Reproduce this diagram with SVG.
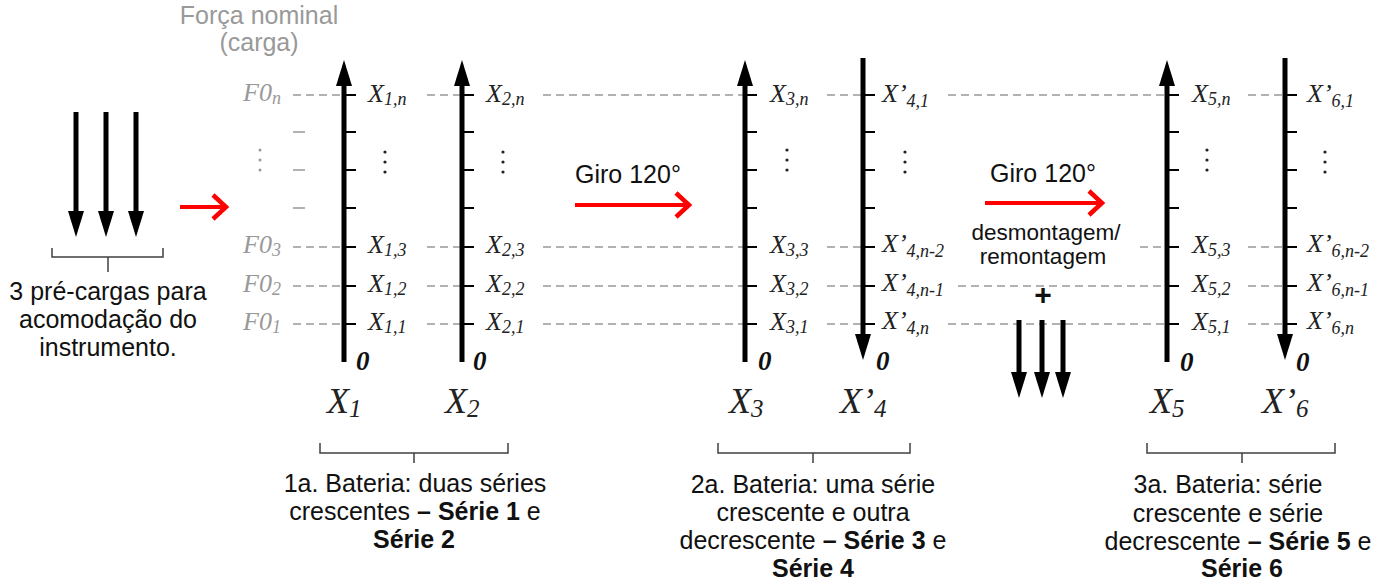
<svg xmlns="http://www.w3.org/2000/svg" width="1396" height="586" viewBox="0 0 1396 586">
<style>
.lab{font-family:"Liberation Serif","Times New Roman",serif;font-style:italic;font-size:26px;fill:#222}
.sub{font-size:18px}
.f0{fill:#999}
.big{font-size:36px}
.bsub{font-size:25px}
.zero{font-family:"Liberation Serif",serif;font-style:italic;font-weight:bold;font-size:27px;fill:#111}
.sans{font-family:"Liberation Sans",Arial,sans-serif;font-size:25px;fill:#111}
.mid{text-anchor:middle}
.gray{fill:#999}
.axis{stroke:#000;stroke-width:5;fill:none}
.tick{stroke:#000;stroke-width:2}
.dash{stroke:#999;stroke-width:1.6;stroke-dasharray:8 5;fill:none}
.gdash{stroke:#999;stroke-width:1.6}
.red{stroke:#f00;stroke-width:4;fill:none}
.brk{stroke:#404040;stroke-width:1.5;fill:none}
.dot{fill:#222}
.gdot{fill:#999}
</style>
<defs>
<marker id="ah" markerUnits="userSpaceOnUse" markerWidth="26" markerHeight="16" viewBox="0 0 26 16" refX="2" refY="8" orient="auto"><path d="M0,0 L26,8 L0,16 z" fill="#000"/></marker>
<marker id="rh" markerUnits="userSpaceOnUse" markerWidth="24" markerHeight="30" viewBox="-4 -15 24 30" refX="13" refY="0" orient="auto"><path d="M0,-12 L13,0 L0,12" fill="none" stroke="#f00" stroke-width="4.5"/></marker>
</defs>

<rect width="1396" height="586" fill="#fff"/>

<g id="title">
<text class="sans gray mid" x="259" y="24">Força nominal</text>
<text class="sans gray mid" x="259" y="51">(carga)</text>
</g>

<g id="connectors">
<g class="dash">
<path d="M293,95H344M293,247H344M293,286H344M293,324H344"/>
<path d="M427,95H462M427,247H462M427,286H462M427,324H462"/>
<path d="M543,95H745M543,247H745M543,286H745M543,324H745"/>
<path d="M827,95H863M827,247H863M827,286H863M827,324H863"/>
<path d="M948,95H1167M1140,247H1167M958,286H1167M948,324H1167"/>
<path d="M1248,95H1285M1248,247H1285M1248,286H1285M1248,324H1285"/>
</g>
<line class="red" x1="180" y1="207" x2="226" y2="207" marker-end="url(#rh)"/>
<line class="red" x1="575" y1="205" x2="689" y2="205" marker-end="url(#rh)"/>
<line class="red" x1="985" y1="203" x2="1102" y2="203" marker-end="url(#rh)"/>
</g>

<g id="preload">
<line class="axis" x1="76" y1="112" x2="76" y2="213" marker-end="url(#ah)"/>
<line class="axis" x1="106" y1="112" x2="106" y2="213" marker-end="url(#ah)"/>
<line class="axis" x1="136" y1="112" x2="136" y2="213" marker-end="url(#ah)"/>
<path class="brk" d="M52,248V257H163V248M108,257V272"/>
<text class="sans mid" x="108" y="300">3 pré-cargas para</text>
<text class="sans mid" x="108" y="328">acomodação do</text>
<text class="sans mid" x="108" y="356">instrumento.</text>
</g>

<g id="f0scale">
<path class="gdash" d="M293,132H305M293,170H305M293,208H305"/>
<circle class="gdot" cx="260" cy="150" r="1.5"/><circle class="gdot" cx="260" cy="160" r="1.5"/><circle class="gdot" cx="260" cy="170" r="1.5"/>
<text class="lab f0" x="243" y="101">F0<tspan class="sub" dy="3">n</tspan></text>
<text class="lab f0" x="243" y="253">F0<tspan class="sub" dy="3">3</tspan></text>
<text class="lab f0" x="243" y="292">F0<tspan class="sub" dy="3">2</tspan></text>
<text class="lab f0" x="243" y="330">F0<tspan class="sub" dy="3">1</tspan></text>
</g>

<g id="axis1">
<line class="axis" x1="344" y1="362" x2="344" y2="84" marker-end="url(#ah)"/>
<path class="tick" d="M344,95h12M344,132h12M344,170h12M344,208h12M344,247h12M344,286h12M344,324h12"/>
<circle class="dot" cx="385" cy="152" r="1.6"/><circle class="dot" cx="385" cy="162" r="1.6"/><circle class="dot" cx="385" cy="172" r="1.6"/>
<text class="lab" x="368" y="102">X<tspan class="sub" dy="3">1,n</tspan></text>
<text class="lab" x="368" y="253">X<tspan class="sub" dy="3">1,3</tspan></text>
<text class="lab" x="368" y="292">X<tspan class="sub" dy="3">1,2</tspan></text>
<text class="lab" x="368" y="330">X<tspan class="sub" dy="3">1,1</tspan></text>
<text class="zero" x="356" y="370">0</text>
<text class="lab big" x="327" y="413">X<tspan class="bsub" dy="4">1</tspan></text>
</g>

<g id="axis2">
<line class="axis" x1="462" y1="362" x2="462" y2="84" marker-end="url(#ah)"/>
<path class="tick" d="M462,95h12M462,132h12M462,170h12M462,208h12M462,247h12M462,286h12M462,324h12"/>
<circle class="dot" cx="503" cy="152" r="1.6"/><circle class="dot" cx="503" cy="162" r="1.6"/><circle class="dot" cx="503" cy="172" r="1.6"/>
<text class="lab" x="486" y="102">X<tspan class="sub" dy="3">2,n</tspan></text>
<text class="lab" x="486" y="253">X<tspan class="sub" dy="3">2,3</tspan></text>
<text class="lab" x="486" y="292">X<tspan class="sub" dy="3">2,2</tspan></text>
<text class="lab" x="486" y="330">X<tspan class="sub" dy="3">2,1</tspan></text>
<text class="zero" x="473" y="370">0</text>
<text class="lab big" x="445" y="413">X<tspan class="bsub" dy="4">2</tspan></text>
</g>

<g id="axis3">
<line class="axis" x1="745" y1="362" x2="745" y2="84" marker-end="url(#ah)"/>
<path class="tick" d="M745,95h12M745,132h12M745,170h12M745,208h12M745,247h12M745,286h12M745,324h12"/>
<circle class="dot" cx="787" cy="150" r="1.6"/><circle class="dot" cx="787" cy="160" r="1.6"/><circle class="dot" cx="787" cy="170" r="1.6"/>
<text class="lab" x="770" y="102">X<tspan class="sub" dy="3">3,n</tspan></text>
<text class="lab" x="770" y="253">X<tspan class="sub" dy="3">3,3</tspan></text>
<text class="lab" x="770" y="292">X<tspan class="sub" dy="3">3,2</tspan></text>
<text class="lab" x="770" y="330">X<tspan class="sub" dy="3">3,1</tspan></text>
<text class="zero" x="758" y="370">0</text>
<text class="lab big" x="729" y="413">X<tspan class="bsub" dy="4">3</tspan></text>
</g>

<g id="axis4">
<line class="axis" x1="863" y1="58" x2="863" y2="336" marker-end="url(#ah)"/>
<path class="tick" d="M863,95h12M863,132h12M863,170h12M863,208h12M863,247h12M863,286h12M863,324h12"/>
<circle class="dot" cx="905" cy="152" r="1.6"/><circle class="dot" cx="905" cy="162" r="1.6"/><circle class="dot" cx="905" cy="172" r="1.6"/>
<text class="lab" x="882" y="102">X’<tspan class="sub" dy="5">4,1</tspan></text>
<text class="lab" x="882" y="252">X’<tspan class="sub" dy="5">4,n-2</tspan></text>
<text class="lab" x="882" y="291">X’<tspan class="sub" dy="5">4,n-1</tspan></text>
<text class="lab" x="882" y="329">X’<tspan class="sub" dy="5">4,n</tspan></text>
<text class="zero" x="876" y="370">0</text>
<text class="lab big" x="840" y="413">X’<tspan class="bsub" dy="4">4</tspan></text>
</g>

<g id="reassembly">
<text class="sans mid" x="1043" y="182">Giro 120°</text>
<text class="sans mid" x="1046" y="240" style="font-size:22.5px">desmontagem/</text>
<text class="sans mid" x="1043" y="264" style="font-size:22.5px">remontagem</text>
<text class="sans mid" x="1043" y="305" style="font-size:30px;font-weight:bold">+</text>
<line class="axis" x1="1019" y1="320" x2="1019" y2="374" marker-end="url(#ah)"/>
<line class="axis" x1="1042" y1="320" x2="1042" y2="374" marker-end="url(#ah)"/>
<line class="axis" x1="1063" y1="320" x2="1063" y2="374" marker-end="url(#ah)"/>
</g>

<g id="giro1">
<text class="sans" x="575" y="183">Giro 120°</text>
</g>

<g id="axis5">
<line class="axis" x1="1167" y1="362" x2="1167" y2="84" marker-end="url(#ah)"/>
<path class="tick" d="M1167,95h12M1167,132h12M1167,170h12M1167,208h12M1167,247h12M1167,286h12M1167,324h12"/>
<circle class="dot" cx="1207" cy="150" r="1.6"/><circle class="dot" cx="1207" cy="160" r="1.6"/><circle class="dot" cx="1207" cy="170" r="1.6"/>
<text class="lab" x="1192" y="102">X<tspan class="sub" dy="3">5,n</tspan></text>
<text class="lab" x="1192" y="253">X<tspan class="sub" dy="3">5,3</tspan></text>
<text class="lab" x="1192" y="292">X<tspan class="sub" dy="3">5,2</tspan></text>
<text class="lab" x="1192" y="330">X<tspan class="sub" dy="3">5,1</tspan></text>
<text class="zero" x="1180" y="371">0</text>
<text class="lab big" x="1150" y="413">X<tspan class="bsub" dy="4">5</tspan></text>
</g>

<g id="axis6">
<line class="axis" x1="1285" y1="58" x2="1285" y2="336" marker-end="url(#ah)"/>
<path class="tick" d="M1285,95h12M1285,132h12M1285,170h12M1285,208h12M1285,247h12M1285,286h12M1285,324h12"/>
<circle class="dot" cx="1325" cy="152" r="1.6"/><circle class="dot" cx="1325" cy="162" r="1.6"/><circle class="dot" cx="1325" cy="172" r="1.6"/>
<text class="lab" x="1307" y="102">X’<tspan class="sub" dy="5">6,1</tspan></text>
<text class="lab" x="1307" y="252">X’<tspan class="sub" dy="5">6,n-2</tspan></text>
<text class="lab" x="1307" y="291">X’<tspan class="sub" dy="5">6,n-1</tspan></text>
<text class="lab" x="1307" y="329">X’<tspan class="sub" dy="5">6,n</tspan></text>
<text class="zero" x="1296" y="371">0</text>
<text class="lab big" x="1262" y="413">X’<tspan class="bsub" dy="4">6</tspan></text>
</g>

<g id="battery1">
<path class="brk" d="M320,443V453H508V443M414,453V463"/>
<text class="sans mid" x="415" y="492">1a. Bateria: duas séries</text>
<text class="sans mid" x="415" y="520">crescentes <tspan font-weight="bold">– Série 1</tspan> e</text>
<text class="sans mid" x="414" y="548" font-weight="bold">Série 2</text>
</g>

<g id="battery2">
<path class="brk" d="M718,443V453H910V443M813,453V463"/>
<text class="sans mid" x="813" y="493">2a. Bateria: uma série</text>
<text class="sans mid" x="813" y="521">crescente e outra</text>
<text class="sans mid" x="813" y="549">decrescente <tspan font-weight="bold">– Série 3</tspan> e</text>
<text class="sans mid" x="813" y="577" font-weight="bold">Série 4</text>
</g>

<g id="battery3">
<path class="brk" d="M1147,443V453H1335V443M1242,453V463"/>
<text class="sans mid" x="1228" y="493">3a. Bateria: série</text>
<text class="sans mid" x="1228" y="522">crescente e série</text>
<text class="sans mid" x="1238" y="550">decrescente <tspan font-weight="bold">– Série 5</tspan> e</text>
<text class="sans mid" x="1242" y="577" font-weight="bold">Série 6</text>
</g>
</svg>
